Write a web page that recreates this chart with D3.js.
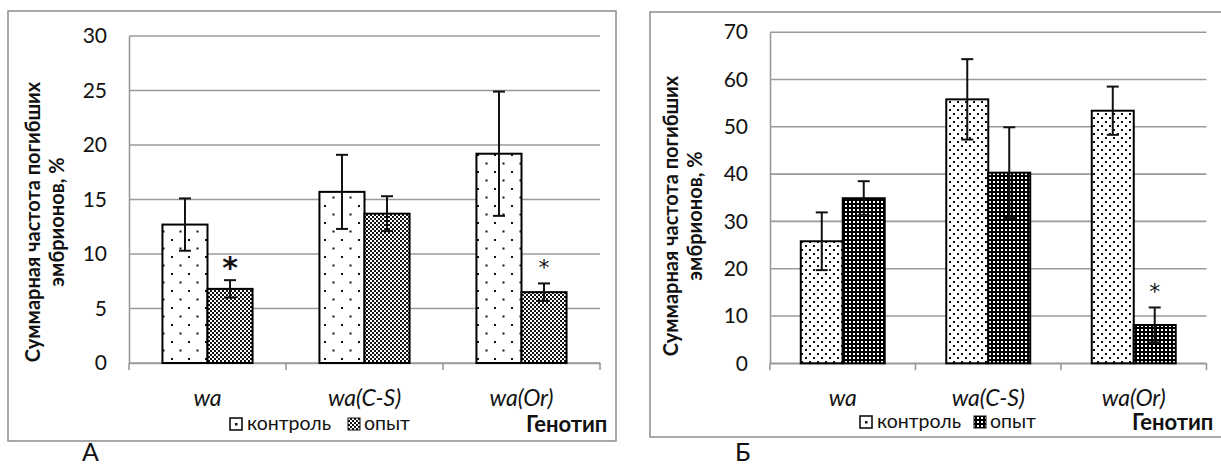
<!DOCTYPE html>
<html>
<head>
<meta charset="utf-8">
<script src="https://cdn.jsdelivr.net/npm/d3@7"></script>
<style>
  html, body { margin: 0; padding: 0; background: #fff; }
  svg { display: block; font-family: Lato, "Open Sans", sans-serif; }
</style>
</head>
<body>
<svg id="chart" width="1221" height="468"></svg>
<script>
// ---- data ----
const categories = ["wa", "wa(C-S)", "wa(Or)"];
const seriesNames = ["контроль", "опыт"];

const controlA = [12.7, 15.7, 19.2];
const controlAErr = [2.4, 3.4, 5.7];
const opytA = [6.8, 13.7, 6.5];
const opytAErr = [0.8, 1.6, 0.8];
const sigA = [true, false, true];
const ticksA = [0, 5, 10, 15, 20, 25, 30];

const controlB = [25.8, 55.8, 53.4];
const controlBErr = [6.1, 8.5, 5.1];
const opytB = [34.9, 40.3, 8.1];
const opytBErr = [3.6, 9.6, 3.7];
const sigB = [false, false, true];
const ticksB = [0, 10, 20, 30, 40, 50, 60, 70];

const yTitle = ["Суммарная частота погибших", "эмбрионов, %"];
const xTitle = "Генотип";
const panelLabels = ["А", "Б"];

// ---- drawing ----
const svg = d3.select("#chart");
const defs = svg.append("defs");

function pat(id, w, h, bg, rects, fg) {
  const p = defs.append("pattern").attr("id", id).attr("patternUnits", "userSpaceOnUse")
    .attr("width", w).attr("height", h);
  p.append("rect").attr("width", w).attr("height", h).attr("fill", bg);
  rects.forEach(r => p.append("rect").attr("x", r[0]).attr("y", r[1]).attr("width", r[2]).attr("height", r[3]).attr("fill", fg));
}
pat("dotsA", 17, 17, "#fff", [[1, 1, 2, 2], [9.5, 9.5, 2, 2]], "#111");
pat("checkA", 4, 4, "#fff", [[0, 0, 2, 2], [2, 2, 2, 2]], "#111");
pat("dotsB", 8, 8, "#fff", [[1, 1, 2, 2], [5, 5, 2, 2]], "#111");
pat("gridB", 4, 4, "#000", [[1, 1, 2, 2]], "#fff");

function drawPanel(cfg) {
  const g = svg.append("g");
  // frame
  g.append("rect").attr("x", cfg.frame[0]).attr("y", cfg.frame[1])
    .attr("width", cfg.frame[2]).attr("height", cfg.frame[3])
    .attr("fill", "none").attr("stroke", "#8c8c8c").attr("stroke-width", 1.5);

  const x = d3.scaleBand().domain(categories).range([cfg.x0, cfg.x1]).paddingInner(0).paddingOuter(0);
  const y = d3.scaleLinear().domain([0, cfg.ticks[cfg.ticks.length - 1]]).range([cfg.y0, cfg.y1]);
  const sub = d3.scaleBand().domain(seriesNames).range([0, x.bandwidth() * cfg.groupFrac])
    .paddingInner(0);
  const off = x.bandwidth() * (1 - cfg.groupFrac) / 2;

  // gridlines
  g.append("g").selectAll("line").data(cfg.ticks).join("line")
    .attr("x1", cfg.x0).attr("x2", cfg.x1)
    .attr("y1", d => y(d)).attr("y2", d => y(d))
    .attr("stroke", "#9a9a9a").attr("stroke-width", 1.6);

  // y axis
  const ya = g.append("g").attr("transform", `translate(${cfg.x0},0)`)
    .call(d3.axisLeft(y).tickValues(cfg.ticks).tickSize(0).tickPadding(cfg.tickPad));
  ya.select(".domain").attr("stroke", "#9a9a9a").attr("stroke-width", 1.6);
  ya.selectAll("text").attr("font-size", 21).attr("fill", "#111")
    .attr("font-family", "Lato, 'Open Sans', sans-serif");

  // x axis
  const xa = g.append("g").attr("transform", `translate(0,${cfg.y0})`)
    .call(d3.axisBottom(x).tickSize(0).tickFormat(""));
  xa.select(".domain").attr("stroke", "#9a9a9a").attr("stroke-width", 1.6);
  const bounds = [cfg.x0].concat(categories.map(c => x(c) + x.bandwidth()));
  g.append("g").selectAll("line").data(bounds).join("line")
    .attr("x1", d => d).attr("x2", d => d).attr("y1", cfg.y0).attr("y2", cfg.y0 + 7)
    .attr("stroke", "#9a9a9a").attr("stroke-width", 1.6);
  g.append("g").selectAll("text").data(categories).join("text")
    .attr("x", d => x(d) + x.bandwidth() / 2).attr("y", cfg.catY)
    .attr("text-anchor", "middle").attr("font-style", "italic").attr("font-size", 23)
    .attr("fill", "#111").text(d => d);

  const series = [
    { name: seriesNames[0], vals: cfg.control, err: cfg.controlErr, fill: cfg.fills[0], sig: [false, false, false] },
    { name: seriesNames[1], vals: cfg.opyt, err: cfg.opytErr, fill: cfg.fills[1], sig: cfg.sig }
  ];

  series.forEach(s => {
    const bx = i => x(categories[i]) + off + sub(s.name);
    const bars = g.append("g");
    bars.selectAll("rect").data(s.vals).join("rect")
      .attr("x", (d, i) => bx(i)).attr("y", d => y(d))
      .attr("width", sub.bandwidth()).attr("height", d => y(0) - y(d))
      .attr("fill", s.fill).attr("stroke", "#000").attr("stroke-width", 2);
  });

  series.forEach(s => {
    const cx = i => x(categories[i]) + off + sub(s.name) + sub.bandwidth() / 2;
    const eb = g.append("g").attr("stroke", "#111").attr("stroke-width", 2);
    s.vals.forEach((v, i) => {
      const hi = y(v + s.err[i]), lo = y(v - s.err[i]);
      eb.append("line").attr("x1", cx(i)).attr("x2", cx(i)).attr("y1", hi).attr("y2", lo);
      eb.append("line").attr("x1", cx(i) - 6).attr("x2", cx(i) + 6).attr("y1", hi).attr("y2", hi);
      eb.append("line").attr("x1", cx(i) - 6).attr("x2", cx(i) + 6).attr("y1", lo).attr("y2", lo);
      if (s.sig[i]) {
        const big = cfg.bigStar === i;
        g.append("text").attr("x", cx(i)).attr("y", hi - (big ? 2 : 8))
          .attr("text-anchor", "middle").attr("font-size", big ? 30 : 22)
          .attr("font-weight", big ? "bold" : "normal")
          .attr("font-family", "'DejaVu Sans', sans-serif")
          .attr("fill", "#111").text("*");
      }
    });
  });

  // y title
  const t = g.append("text").attr("transform", `translate(${cfg.titleX},${cfg.titleY}) rotate(-90)`)
    .attr("text-anchor", "middle").attr("font-weight", "bold").attr("font-size", 20).attr("fill", "#111");
  t.append("tspan").attr("x", 0).attr("dy", 0).text(yTitle[0]);
  t.append("tspan").attr("x", 0).attr("dy", 24).text(yTitle[1]);

  // legend
  const lg = g.append("g").attr("transform", `translate(${cfg.legX},${cfg.legY})`);
  lg.append("rect").attr("x", 0).attr("y", -12).attr("width", 12).attr("height", 12)
    .attr("fill", "#fff").attr("stroke", "#111").attr("stroke-width", 1.6);
  lg.append("rect").attr("x", 5).attr("y", -7).attr("width", 2.5).attr("height", 2.5).attr("fill", "#111");
  lg.append("text").attr("x", 17).attr("y", 0).attr("font-size", 19.5).attr("fill", "#111").text(seriesNames[0]);
  lg.append("rect").attr("x", cfg.leg2).attr("y", -12).attr("width", 12).attr("height", 12)
    .attr("fill", cfg.fills[1]).attr("stroke", "#111").attr("stroke-width", 1);
  lg.append("text").attr("x", cfg.leg2 + 16).attr("y", 0).attr("font-size", 19.5).attr("fill", "#111").text(seriesNames[1]);

  g.append("text").attr("x", cfg.genX).attr("y", cfg.genY).attr("font-weight", "bold")
    .attr("font-size", 22).attr("fill", "#111").text(xTitle);

  g.append("text").attr("x", cfg.labX).attr("y", 461).attr("font-size", 25).attr("fill", "#111").text(cfg.label);
}

drawPanel({
  frame: [8, 11, 608, 430], x0: 129, x1: 600, y0: 363, y1: 36, ticks: ticksA, tickPad: 22,
  groupFrac: 0.574, control: controlA, controlErr: controlAErr, opyt: opytA, opytErr: opytAErr,
  sig: sigA, bigStar: 0, fills: ["url(#dotsA)", "url(#checkA)"], catY: 406,
  titleX: 40, titleY: 222, legX: 230, legY: 430, leg2: 118, genX: 526, genY: 432,
  labX: 82, label: panelLabels[0]
});
drawPanel({
  frame: [650, 12, 575, 425], x0: 770, x1: 1206.5, y0: 363.3, y1: 32.2, ticks: ticksB, tickPad: 22,
  groupFrac: 0.577, control: controlB, controlErr: controlBErr, opyt: opytB, opytErr: opytBErr,
  sig: sigB, bigStar: -1, fills: ["url(#dotsB)", "url(#gridB)"], catY: 406,
  titleX: 678, titleY: 216, legX: 860, legY: 428, leg2: 114, genX: 1132, genY: 430,
  labX: 735, label: panelLabels[1]
});
</script>
</body>
</html>
